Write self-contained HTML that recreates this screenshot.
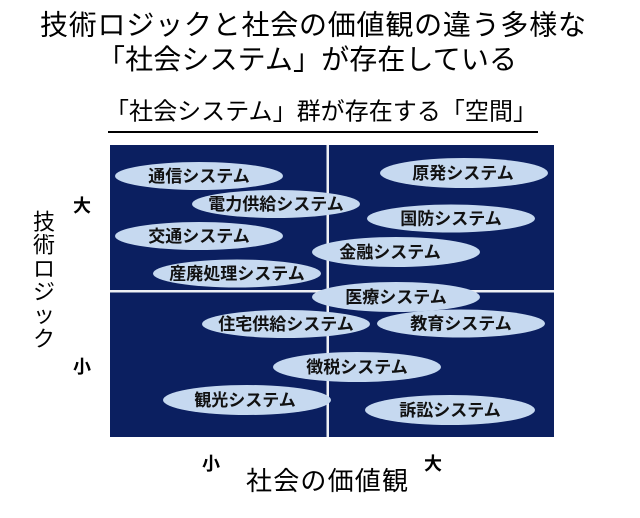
<!DOCTYPE html>
<html><head><meta charset="utf-8"><style>
html,body{margin:0;padding:0;background:#fff;}
svg{display:block;}
text{font-family:"Liberation Sans","Noto Sans CJK JP",sans-serif;fill:#000;}
.e{fill:#c6d9f0;}
.t{font-size:17px;font-weight:bold;fill:#111;}
</style></head><body>
<svg width="640" height="518" viewBox="0 0 640 518" xmlns="http://www.w3.org/2000/svg">
<rect width="640" height="518" fill="#fff"/>
<!-- titles -->
<text x="40" y="25" dominant-baseline="central" font-size="28" textLength="546" lengthAdjust="spacing">技術ロジックと社会の価値観の違う多様な</text>
<text x="97" y="59.5" dominant-baseline="central" font-size="28" textLength="420" lengthAdjust="spacing">「社会システム」が存在している</text>
<text x="105" y="112" dominant-baseline="central" font-size="24" textLength="432" lengthAdjust="spacing">「社会システム」群が存在する「空間」</text>
<rect x="108" y="131" width="430" height="2" fill="#000"/>

<!-- panel -->
<rect x="110" y="145" width="444" height="292" fill="#0b1f60"/>
<rect x="326.5" y="145" width="2.5" height="292" fill="#eef0f4"/>
<rect x="110" y="290" width="444" height="2.5" fill="#eef0f4"/>

<!-- ellipses -->
<g>
<ellipse class="e" cx="199" cy="176" rx="84" ry="14"/>
<text class="t" x="199" y="176.5" text-anchor="middle" dominant-baseline="central">通信システム</text>
<ellipse class="e" cx="276" cy="204" rx="84" ry="14"/>
<text class="t" x="276" y="204.5" text-anchor="middle" dominant-baseline="central">電力供給システム</text>
<ellipse class="e" cx="199" cy="236" rx="84" ry="14"/>
<text class="t" x="199" y="236.5" text-anchor="middle" dominant-baseline="central">交通システム</text>
<ellipse class="e" cx="237" cy="273.5" rx="84" ry="14"/>
<text class="t" x="237" y="274" text-anchor="middle" dominant-baseline="central">産廃処理システム</text>
<ellipse class="e" cx="464" cy="173" rx="84" ry="15"/>
<text class="t" x="463" y="173.5" text-anchor="middle" dominant-baseline="central">原発システム</text>
<ellipse class="e" cx="451" cy="218.5" rx="84" ry="14"/>
<text class="t" x="451" y="219" text-anchor="middle" dominant-baseline="central">国防システム</text>
<ellipse class="e" cx="396" cy="252" rx="84" ry="15"/>
<text class="t" x="390" y="252.5" text-anchor="middle" dominant-baseline="central">金融システム</text>
<ellipse class="e" cx="396" cy="297" rx="84" ry="15"/>
<text class="t" x="396" y="297.5" text-anchor="middle" dominant-baseline="central">医療システム</text>
<ellipse class="e" cx="286" cy="324" rx="84" ry="14"/>
<text class="t" x="286" y="324.5" text-anchor="middle" dominant-baseline="central">住宅供給システム</text>
<ellipse class="e" cx="461" cy="323.5" rx="84" ry="14"/>
<text class="t" x="461" y="324" text-anchor="middle" dominant-baseline="central">教育システム</text>
<ellipse class="e" cx="357" cy="367" rx="84" ry="15"/>
<text class="t" x="357" y="367.5" text-anchor="middle" dominant-baseline="central">徴税システム</text>
<ellipse class="e" cx="247" cy="400" rx="84" ry="15"/>
<text class="t" x="245" y="400.5" text-anchor="middle" dominant-baseline="central">観光システム</text>
<ellipse class="e" cx="450" cy="410" rx="85" ry="15"/>
<text class="t" x="450" y="410.5" text-anchor="middle" dominant-baseline="central">訴訟システム</text>
</g>

<!-- y axis label -->
<g font-size="22" text-anchor="middle">
<text x="44" y="222" dominant-baseline="central">技</text>
<text x="44" y="245" dominant-baseline="central">術</text>
<text x="44" y="269" dominant-baseline="central">ロ</text>
<text x="44" y="292" dominant-baseline="central">ジ</text>
<text x="44" y="315" dominant-baseline="central">ッ</text>
<text x="44" y="339" dominant-baseline="central">ク</text>
</g>
<text x="82" y="206" text-anchor="middle" dominant-baseline="central" font-size="18" font-weight="bold">大</text>
<text x="82" y="367" text-anchor="middle" dominant-baseline="central" font-size="18" font-weight="bold">小</text>

<!-- x axis -->
<text x="211" y="464" text-anchor="middle" dominant-baseline="central" font-size="18" font-weight="bold">小</text>
<text x="433" y="464" text-anchor="middle" dominant-baseline="central" font-size="18" font-weight="bold">大</text>
<text x="246" y="481" dominant-baseline="central" font-size="26" textLength="162" lengthAdjust="spacing">社会の価値観</text>
</svg>
</body></html>
